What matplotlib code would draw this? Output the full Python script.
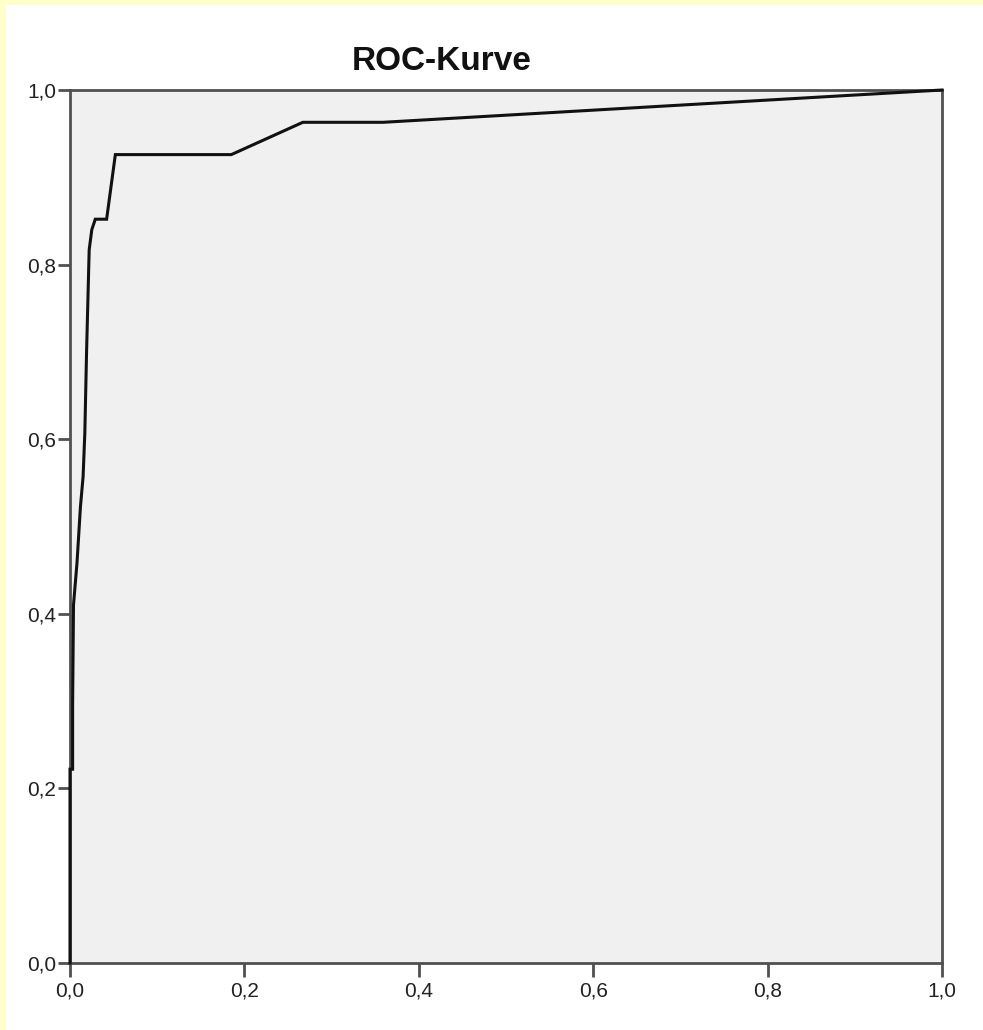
import matplotlib
matplotlib.use("Agg")
import matplotlib.pyplot as plt
from matplotlib.patches import Rectangle

# ROC curve points
fpr = [0.0, 0.0, 0.003, 0.003, 0.004, 0.008, 0.012, 0.015, 0.017, 0.019,
       0.022, 0.025, 0.029, 0.042, 0.052, 0.185, 0.267, 0.359, 1.0]
tpr = [0.0, 0.222, 0.222, 0.296, 0.41, 0.458, 0.523, 0.557, 0.607, 0.70,
       0.817, 0.84, 0.852, 0.852, 0.926, 0.926, 0.963, 0.963, 1.0]
ticks = [0.0, 0.2, 0.4, 0.6, 0.8, 1.0]
tick_labels = ["0,0", "0,2", "0,4", "0,6", "0,8", "1,0"]

plt.rcParams["font.family"] = ["Liberation Sans", "DejaVu Sans"]

fig = plt.figure(figsize=(9.83, 10.30), dpi=100)
fig.patch.set_facecolor("#FFFFCC")
# white page inside the yellow frame
fig.patches.append(Rectangle((6 / 983, 0), 1, 1 - 5 / 1030, transform=fig.transFigure,
                             facecolor="white", edgecolor="none", zorder=-5))

ax = fig.add_axes([70 / 983, 1 - 963 / 1030, 872 / 983, 873 / 1030])
ax.set_zorder(2)
ax.set_facecolor("#F0F0F0")
ax.plot(fpr, tpr, color="#111111", linewidth=2.2, solid_joinstyle="miter", clip_on=False, zorder=3)

ax.set_xlim(0, 1)
ax.set_ylim(0, 1)
ax.set_xticks(ticks)
ax.set_yticks(ticks)
ax.set_xticklabels(tick_labels)
ax.set_yticklabels(tick_labels)
for s in ax.spines.values():
    s.set_color("#505050")
    s.set_linewidth(2)
ax.tick_params(direction="out", length=10, width=2, color="#505050",
               labelsize=15, labelcolor="#222222", pad=3)
ax.tick_params(axis="y", length=9, pad=1)

fig.text(442 / 983, 1 - 62 / 1030, "ROC-Kurve", ha="center", va="center",
         fontsize=24, fontweight="bold", color="#111111")

fig.savefig("out.png", dpi=100, facecolor=fig.get_facecolor())
